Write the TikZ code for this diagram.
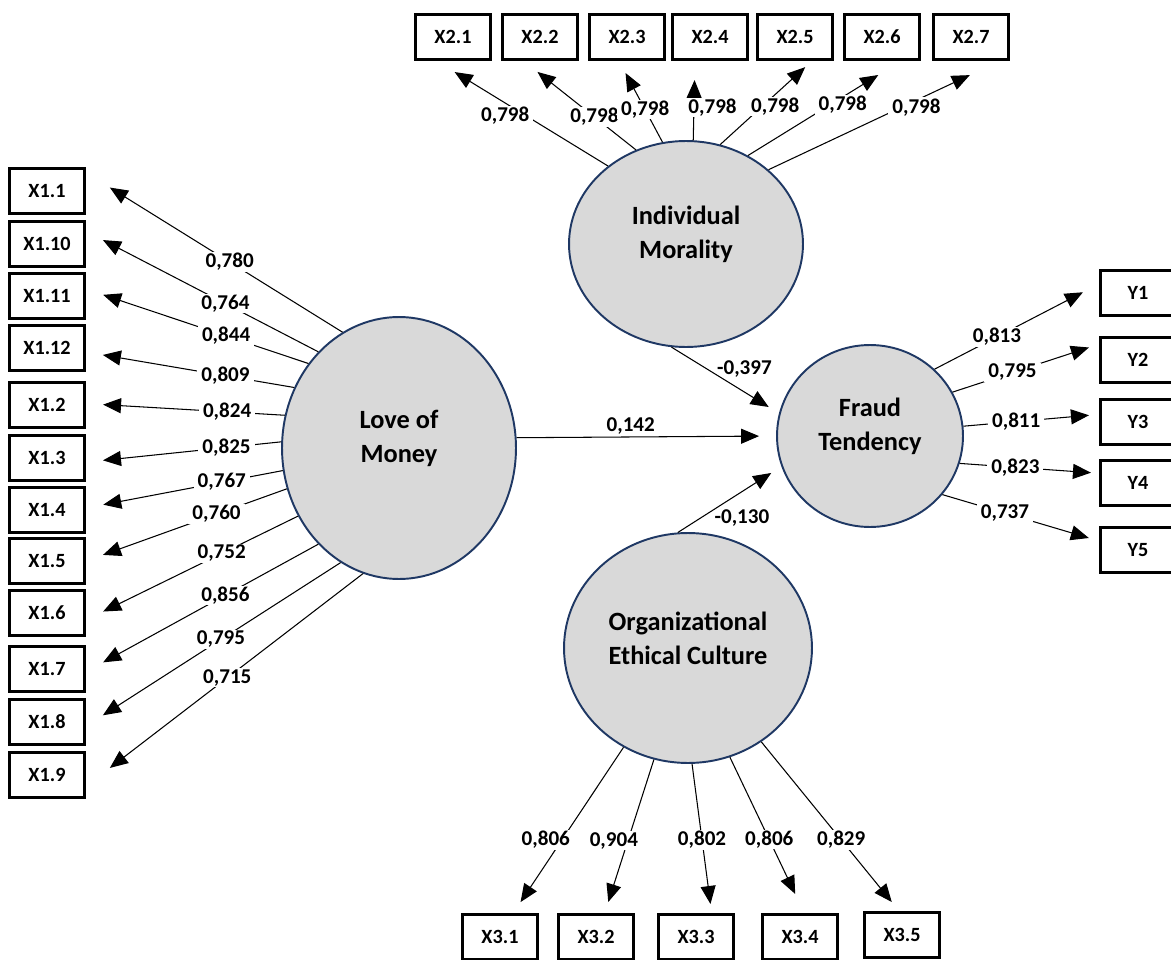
\documentclass[tikz,border=0pt]{standalone}
\usepackage{fontspec}
\setmainfont{Carlito}
\usetikzlibrary{arrows.meta,shapes.geometric}
\definecolor{latfill}{RGB}{217,217,217}
\definecolor{latline}{RGB}{31,56,100}
\begin{document}
\begin{tikzpicture}[x=0.02cm, y=-0.02cm,
ind/.style={draw, shape=rectangle, line width=1.8pt, minimum width=1.5cm, minimum height=0.9cm, inner sep=0pt, font=\fontsize{11.5}{13}\selectfont\bfseries},
lat/.style={draw=latline, fill=latfill, shape=ellipse, line width=1.1pt, inner sep=0pt},
lattext/.style={align=center, yshift=0.19cm, font=\fontsize{15}{19.5}\selectfont\bfseries},
arr/.style={line width=0.6pt, -{Triangle[length=0.36cm, width=0.3cm]}},
lbl/.style={fill=white, inner xsep=0.08cm, inner ysep=0.02cm, font=\fontsize{12}{14}\selectfont\bfseries},
coef/.style={inner sep=0pt, font=\fontsize{12}{14}\selectfont\bfseries}]
\useasboundingbox (0, 0) rectangle (1171, 960);
\draw (399, 448) node[lat, minimum width=4.68cm, minimum height=5.24cm, label={[lattext]center:Love of\\Money}] (lm) {};
\draw (686, 244) node[lat, minimum width=4.68cm, minimum height=4.12cm, label={[lattext]center:Individual\\Morality}] (im) {};
\draw (688, 648) node[lat, minimum width=4.96cm, minimum height=4.6cm, label={[lattext]center:Organizational\\Ethical Culture}] (oc) {};
\draw (870, 436) node[lat, minimum width=3.72cm, minimum height=3.64cm, label={[lattext]center:Fraud\\Tendency}] (ft) {};
\draw (47, 191) node[ind] (x11) {X1.1};
\draw (47, 244) node[ind] (x110) {X1.10};
\draw (47, 296) node[ind] (x111) {X1.11};
\draw (47, 348) node[ind] (x112) {X1.12};
\draw (47, 405) node[ind] (x12) {X1.2};
\draw (47, 458) node[ind] (x13) {X1.3};
\draw (47, 510) node[ind] (x14) {X1.4};
\draw (47, 561) node[ind] (x15) {X1.5};
\draw (47, 613) node[ind] (x16) {X1.6};
\draw (47, 669) node[ind] (x17) {X1.7};
\draw (47, 722) node[ind] (x18) {X1.8};
\draw (47, 775) node[ind] (x19) {X1.9};
\draw (453, 37) node[ind] (x21) {X2.1};
\draw (540, 37) node[ind] (x22) {X2.2};
\draw (627, 37) node[ind] (x23) {X2.3};
\draw (710, 37) node[ind] (x24) {X2.4};
\draw (795, 37) node[ind] (x25) {X2.5};
\draw (882, 37) node[ind] (x26) {X2.6};
\draw (971, 37) node[ind] (x27) {X2.7};
\draw (500, 937) node[ind] (x31) {X3.1};
\draw (596, 937) node[ind] (x32) {X3.2};
\draw (696, 937) node[ind] (x33) {X3.3};
\draw (800, 937) node[ind] (x34) {X3.4};
\draw (902, 935) node[ind] (x35) {X3.5};
\draw (1138, 293) node[ind] (y1) {Y1};
\draw (1138, 360) node[ind] (y2) {Y2};
\draw (1138, 422) node[ind] (y3) {Y3};
\draw (1138, 483) node[ind] (y4) {Y4};
\draw (1138, 550) node[ind] (y5) {Y5};
\draw[arr, shorten >=0.56cm] (lm.116) -- node[lbl, pos=0.44] {0,780} (x11.25);
\draw[arr, shorten >=0.38cm] (lm.130) -- node[lbl, pos=0.40] {0,764} (x110.18);
\draw[arr, shorten >=0.36cm] (lm.137) -- node[lbl, pos=0.37] {0,844} (x111.10);
\draw[arr, shorten >=0.34cm] (lm.150) -- node[lbl, pos=0.33] {0,809} (x112.-6);
\draw[arr, shorten >=0.34cm] (lm.164) -- node[lbl, pos=0.29] {0,824} (x12.2);
\draw[arr, shorten >=0.34cm] (lm.177) -- node[lbl, pos=0.28] {0,825} (x13.-6);
\draw[arr, shorten >=0.35cm] (lm.191) -- node[lbl, pos=0.31] {0,767} (x14.3);
\draw[arr, shorten >=0.36cm] (lm.200) -- node[lbl, pos=0.35] {0,760} (x15.east);
\draw[arr, shorten >=0.38cm] (lm.214) -- node[lbl, pos=0.36] {0,752} (x16.-10);
\draw[arr, shorten >=0.39cm] (lm.230) -- node[lbl, pos=0.40] {0,856} (x17.-4);
\draw[arr, shorten >=0.40cm] (lm.243) -- node[lbl, pos=0.47] {0,795} (x18.-6);
\draw[arr, shorten >=0.60cm] (lm.254) -- node[lbl, pos=0.49] {0,715} (x19.-16);
\draw[arr, shorten >=0.42cm] (im.135) -- node[lbl, pos=0.60, yshift=-0.26cm] {0,798} (x21.236);
\draw[arr, shorten >=0.35cm] (im.118) -- node[lbl, pos=0.37] {0,798} (x22.236);
\draw[arr, shorten >=0.27cm] (im.103) -- node[lbl, pos=0.40] {0,798} (x23.252);
\draw[arr, shorten >=0.38cm] (im.86) -- node[lbl, pos=0.41, anchor=west, xshift=-0.2cm] {0,798} (x24.238);
\draw[arr, shorten >=0.18cm] (im.71) -- node[lbl, pos=0.60, yshift=-0.24cm] {0,798} (x25.305);
\draw[arr, shorten >=0.53cm] (im.55) -- node[lbl, pos=0.62, yshift=-0.16cm] {0,798} (x26.308);
\draw[arr, shorten >=0.66cm] (im.42) -- node[lbl, pos=0.64, yshift=-0.14cm] {0,798} (x27.320);
\draw[arr, shorten >=0.26cm] (oc.237) -- node[lbl, pos=0.56, xshift=-0.32cm] {0,806} (x31.61);
\draw[arr, shorten >=0.23cm] (oc.253) -- node[lbl, pos=0.53, xshift=-0.28cm] {0,904} (x32.70);
\draw[arr, shorten >=0.18cm] (oc.272) -- node[lbl, pos=0.51] {0,802} (x33.57);
\draw[arr, shorten >=0.42cm] (oc.291) -- node[lbl, pos=0.53] {0,806} (x34.80);
\draw[arr, shorten >=0.23cm] (oc.308) -- node[lbl, pos=0.58] {0,829} (x35.97);
\draw[arr, shorten >=0.36cm] (ft.46) -- node[lbl, pos=0.38] {0,813} (y1.167);
\draw[arr, shorten >=0.21cm] (ft.28) -- node[lbl, pos=0.41] {0,795} (y2.158);
\draw[arr, shorten >=0.20cm] (ft.6) -- node[lbl, pos=0.39] {0,811} (y3.169);
\draw[arr, shorten >=0.16cm] (ft.-17) -- node[lbl, pos=0.40] {0,823} (y4.166);
\draw[arr, shorten >=0.21cm] (ft.-39) -- node[lbl, pos=0.40] {0,737} (y5.167);
\draw[arr, shorten >=0.34cm] (lm.5) -- node[coef, pos=0.44, above=1pt] {0,142} (ft.west);
\draw[arr, shorten >=0.24cm] (im.262) -- node[coef, pos=0.42, above right, yshift=-0.06cm] {-0,397} (ft.166);
\draw[arr, shorten >=0.24cm] (oc.95) -- node[coef, pos=0.35, below right] {-0,130} (ft.199);
\end{tikzpicture}
\end{document}
